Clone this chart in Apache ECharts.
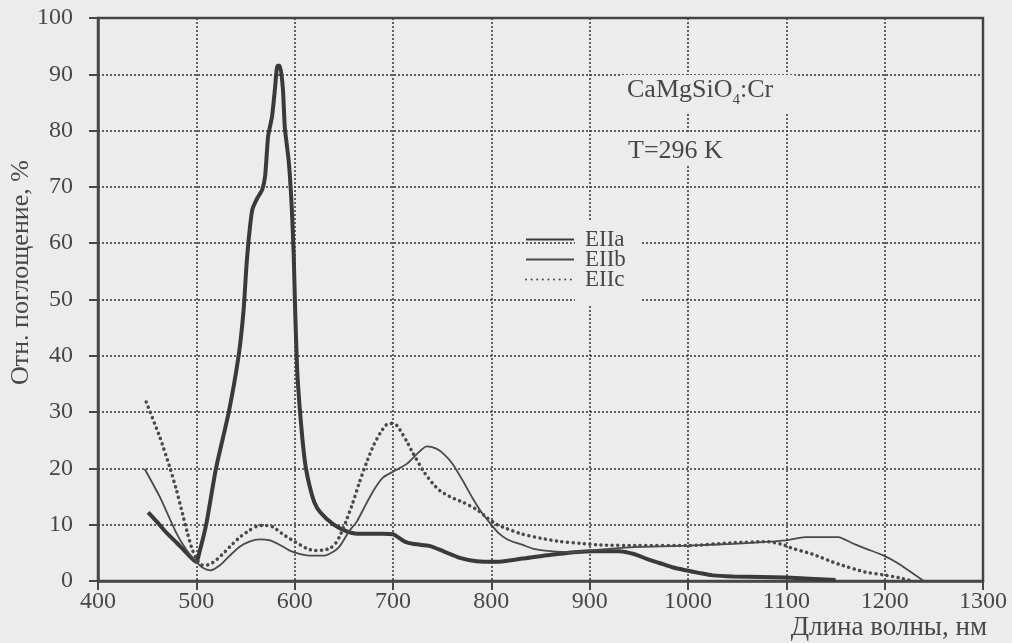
<!DOCTYPE html>
<html>
<head>
<meta charset="utf-8">
<script src="https://cdn.jsdelivr.net/npm/echarts@6/dist/echarts.min.js"></script>
<style>
  html, body { margin: 0; padding: 0; background: #ececec; }
  #main { width: 1012px; height: 643px; }
</style>
</head>
<body>
<div id="main"></div>
<script>
// длины волн (нм) и поглощение (%) для трёх поляризаций
var waveA = [451, 460, 470, 480, 490, 500, 503, 510, 520, 533, 543, 548, 551, 554, 557, 562, 567, 570, 573, 577, 580, 582.5, 585, 588, 590, 594, 597, 599, 600.5, 602, 603, 605, 608, 611, 615, 620, 626, 639, 653, 663, 690, 700, 705, 712, 720, 738, 751, 768, 785, 806, 832, 867, 900, 930, 945, 960, 971, 985, 998, 1012, 1025, 1046, 1075, 1100, 1150];
var absA  = [12.2, 10.5, 8.5, 6.8, 5.0, 3.4, 5.0, 10, 20, 30, 40, 48, 56, 62, 66, 68, 69.5, 72, 79, 82.5, 87.5, 91.5, 91.5, 87.5, 80.5, 74.5, 66.5, 58, 48, 40, 36, 31, 25, 20.5, 17, 14, 12.2, 10.1, 8.8, 8.4, 8.4, 8.3, 7.8, 7.0, 6.6, 6.2, 5.3, 4.1, 3.5, 3.4, 4.0, 4.8, 5.3, 5.3, 4.8, 3.8, 3.2, 2.4, 1.9, 1.4, 1.0, 0.8, 0.7, 0.6, 0.2];

var waveB = [447.5, 463, 480, 490, 500, 507, 514, 524, 534, 544, 554, 564, 575, 585, 595, 605, 615, 630, 640, 646, 656, 663, 673, 681, 690, 701, 714, 724, 734, 744, 752, 761, 771, 781, 790, 799, 808, 816, 823, 832, 843, 860, 880, 900, 920, 945, 1000, 1046, 1100, 1119, 1153, 1166, 1180, 1198, 1213, 1239];
var absB  = [19.9, 14.9, 8.4, 5.5, 3.4, 2.3, 1.9, 2.8, 4.5, 6.1, 7.0, 7.4, 7.2, 6.4, 5.4, 4.8, 4.5, 4.5, 5.3, 6.2, 9.0, 10.5, 13.8, 16.3, 18.4, 19.5, 20.8, 22.5, 23.9, 23.5, 22.5, 20.7, 17.8, 14.7, 12.2, 10.2, 8.4, 7.4, 6.9, 6.4, 5.7, 5.3, 5.1, 5.4, 5.7, 6.0, 6.3, 6.6, 7.2, 7.8, 7.8, 6.8, 5.8, 4.6, 3.2, 0.1];

var waveC = [449, 463, 473, 480, 486, 491, 496, 501, 505, 510, 515, 520, 528, 537, 545, 554, 561, 568, 578, 588, 598, 612, 620, 629, 636, 642, 646, 652, 659, 666, 673, 680, 687, 693, 697, 704, 710, 714, 720, 731, 740, 748, 760, 771, 785, 796, 806, 816, 830, 850, 870, 890, 911, 950, 1000, 1046, 1080, 1096, 1106, 1126, 1153, 1180, 1198, 1214, 1226];
var absC  = [31.8, 25.5, 20.2, 16.0, 11.9, 8.5, 5.5, 3.7, 2.9, 2.8, 3.1, 3.7, 5.0, 6.6, 7.9, 9.0, 9.7, 9.9, 9.6, 8.3, 7.2, 5.8, 5.4, 5.5, 5.8, 6.8, 8.0, 10.5, 13.8, 17.6, 21.0, 24.0, 26.3, 27.7, 28.0, 27.6, 26.0, 24.8, 22.8, 19.5, 17.4, 16.0, 14.8, 14.0, 12.7, 11.2, 10.0, 9.3, 8.4, 7.6, 7.0, 6.7, 6.4, 6.3, 6.3, 6.8, 7.0, 6.5, 5.8, 4.8, 3.0, 1.6, 1.1, 0.6, 0.1];

var names = ['EIIa', 'EIIb', 'EIIc'];
var xTicks = [400, 500, 600, 700, 800, 900, 1000, 1100, 1200, 1300];
var yTicks = [0, 10, 20, 30, 40, 50, 60, 70, 80, 90, 100];

function pairs(xs, ys) {
  var out = [];
  for (var i = 0; i < xs.length; i++) out.push([xs[i], ys[i]]);
  return out;
}

var ink = '#474747', bg = '#ececec', serif = '"Liberation Serif", "DejaVu Serif", serif';

var myChart = echarts.init(document.getElementById('main'));
var option = {
  backgroundColor: bg,
  animation: false,
  textStyle: { fontFamily: serif, color: ink },
  grid: {
    left: 98, right: 29, top: 18, bottom: 62,
    outerBoundsMode: 'none', containLabel: false,
    show: true, borderColor: ink, borderWidth: 2.5, backgroundColor: 'transparent'
  },
  legend: {
    data: names,
    orient: 'vertical',
    left: 520, top: 223,
    itemWidth: 48, itemHeight: 12, itemGap: -3,
    itemStyle: { opacity: 0 },
    textStyle: { fontFamily: serif, fontSize: 23, lineHeight: 20, color: ink, padding: [0, 0, 0, 6] },
    inactiveColor: ink
  },
  xAxis: {
    type: 'value',
    min: xTicks[0], max: xTicks[xTicks.length - 1], interval: 100,
    name: 'Длина волны, нм',
    nameLocation: 'end', nameGap: 4, nameMoveOverlap: false,
    nameTextStyle: { fontFamily: serif, fontSize: 27, color: ink, align: 'right', verticalAlign: 'top', padding: [33, 0, 0, 0] },
    axisLine: { lineStyle: { color: ink, width: 2.5 } },
    axisTick: { show: true, inside: false, length: 9, lineStyle: { color: ink, width: 2 } },
    axisLabel: { fontFamily: serif, fontSize: 24, color: ink, margin: 9, formatter: function (v) { return String(v); } },
    splitLine: { show: true, lineStyle: { color: '#3f3f3f', width: 1.6, type: [2, 2] } }
  },
  yAxis: {
    type: 'value',
    min: yTicks[0], max: yTicks[yTicks.length - 1], interval: 10,
    name: 'Отн. поглощение, %',
    nameLocation: 'middle', nameGap: 64, nameRotate: 90, nameMoveOverlap: false,
    nameTextStyle: { fontFamily: serif, fontSize: 26, color: ink, padding: [0, 0, 0, 54] },
    axisLine: { show: true, lineStyle: { color: ink, width: 2.5 } },
    axisTick: { show: true, inside: false, length: 9, lineStyle: { color: ink, width: 2 } },
    axisLabel: { fontFamily: serif, fontSize: 24, color: ink, margin: 25 },
    splitLine: { show: true, lineStyle: { color: '#3f3f3f', width: 1.6, type: [2, 2] } }
  },
  graphic: [
    // фон под подписями — прерывает сетку
    { type: 'rect', z: 1, shape: { x: 575, y: 221, width: 65, height: 85 }, style: { fill: bg } },
    { type: 'rect', z: 1, shape: { x: 620, y: 75, width: 175, height: 37 }, style: { fill: bg } },
    { type: 'rect', z: 1, shape: { x: 620, y: 133, width: 115, height: 33 }, style: { fill: bg } },
    {
      type: 'text', z: 5, left: 627, top: 77,
      style: {
        text: '{a|CaMgSiO}{s|4}{a|:Cr}',
        fill: ink,
        rich: {
          a: { fontFamily: serif, fontSize: 26, fill: ink, lineHeight: 28, verticalAlign: 'bottom' },
          s: { fontFamily: serif, fontSize: 15, fill: ink, lineHeight: 28, verticalAlign: 'bottom', padding: [0, 0, -5, 0] }
        }
      }
    },
    {
      type: 'text', z: 5, left: 628, top: 138,
      style: { text: 'T=296 K', font: '26px ' + serif, fill: ink }
    }
  ],
  series: [
    {
      name: names[0], type: 'line', showSymbol: false, symbol: 'none', smooth: 0.2,
      data: pairs(waveA, absA),
      lineStyle: { color: '#3a3a3a', width: 4 }, itemStyle: { color: '#3a3a3a' }
    },
    {
      name: names[1], type: 'line', showSymbol: false, symbol: 'none', smooth: 0.2,
      data: pairs(waveB, absB),
      lineStyle: { color: '#4a4a4a', width: 1.8 }, itemStyle: { color: '#4a4a4a' }
    },
    {
      name: names[2], type: 'line', showSymbol: false, symbol: 'none', smooth: 0.2,
      data: pairs(waveC, absC),
      lineStyle: { color: '#4a4a4a', width: 3.5, type: [0.1, 5.5], cap: 'round' }, itemStyle: { color: '#4a4a4a' }
    }
  ]
};
myChart.setOption(option);
</script>
</body>
</html>
